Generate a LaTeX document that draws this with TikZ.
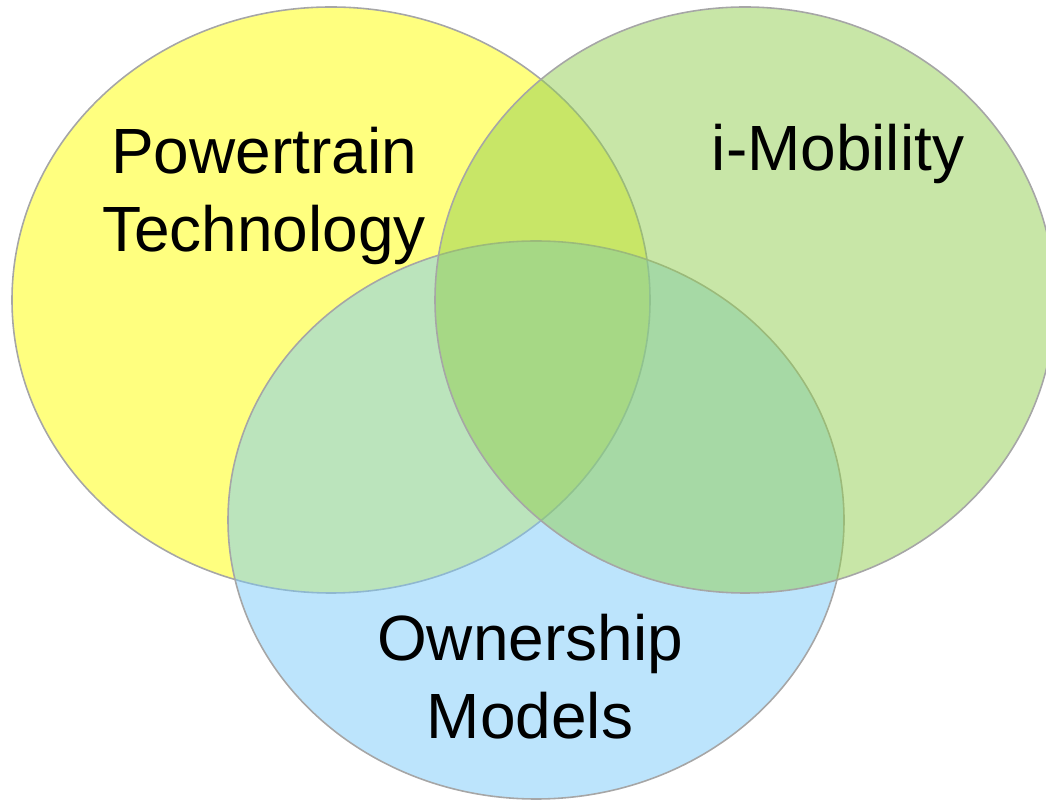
\documentclass[tikz,border=0pt]{standalone}
\usepackage{tikz}
\usepackage{fontspec}
\setmainfont{Liberation Sans}

\definecolor{vennyellow}{RGB}{255,255,0}
\definecolor{venngreen}{RGB}{146,206,80}
\definecolor{vennblue}{RGB}{121,201,249}

\begin{document}
\begin{tikzpicture}[
    rim/.style={draw=black!35, line width=0.45pt},
    topic/.style={font=\fontsize{18.2pt}{22.2pt}\selectfont, align=center, inner sep=0pt}
  ]
  \useasboundingbox (0,0) rectangle (10.46,8);
  \clip (0,0) rectangle (10.46,8);

  % Circle 1 (yellow, top left)
  \fill[vennyellow, opacity=0.5] (3.31,5.00) ellipse (3.19 and 2.93);
  \draw[rim] (3.31,5.00) ellipse (3.19 and 2.93);

  % Circle 3 (blue, bottom)
  \fill[vennblue, opacity=0.5] (5.36,2.80) ellipse (3.08 and 2.79);
  \draw[rim] (5.36,2.80) ellipse (3.08 and 2.79);

  % Circle 2 (green, top right) -- on top of the others
  \fill[venngreen, opacity=0.5] (7.45,5.00) ellipse (3.10 and 2.93);
  \draw[rim] (7.45,5.00) ellipse (3.10 and 2.93);

  % Labels
  \node[topic] (powertrain) at (2.64,6.04) {Powertrain\\Technology};
  \node[topic, anchor=base] (mobility) at (8.38,6.29) {i-Mobility};
  \node[topic] (ownership) at (5.30,1.23) {Ownership\\Models};
\end{tikzpicture}
\end{document}
